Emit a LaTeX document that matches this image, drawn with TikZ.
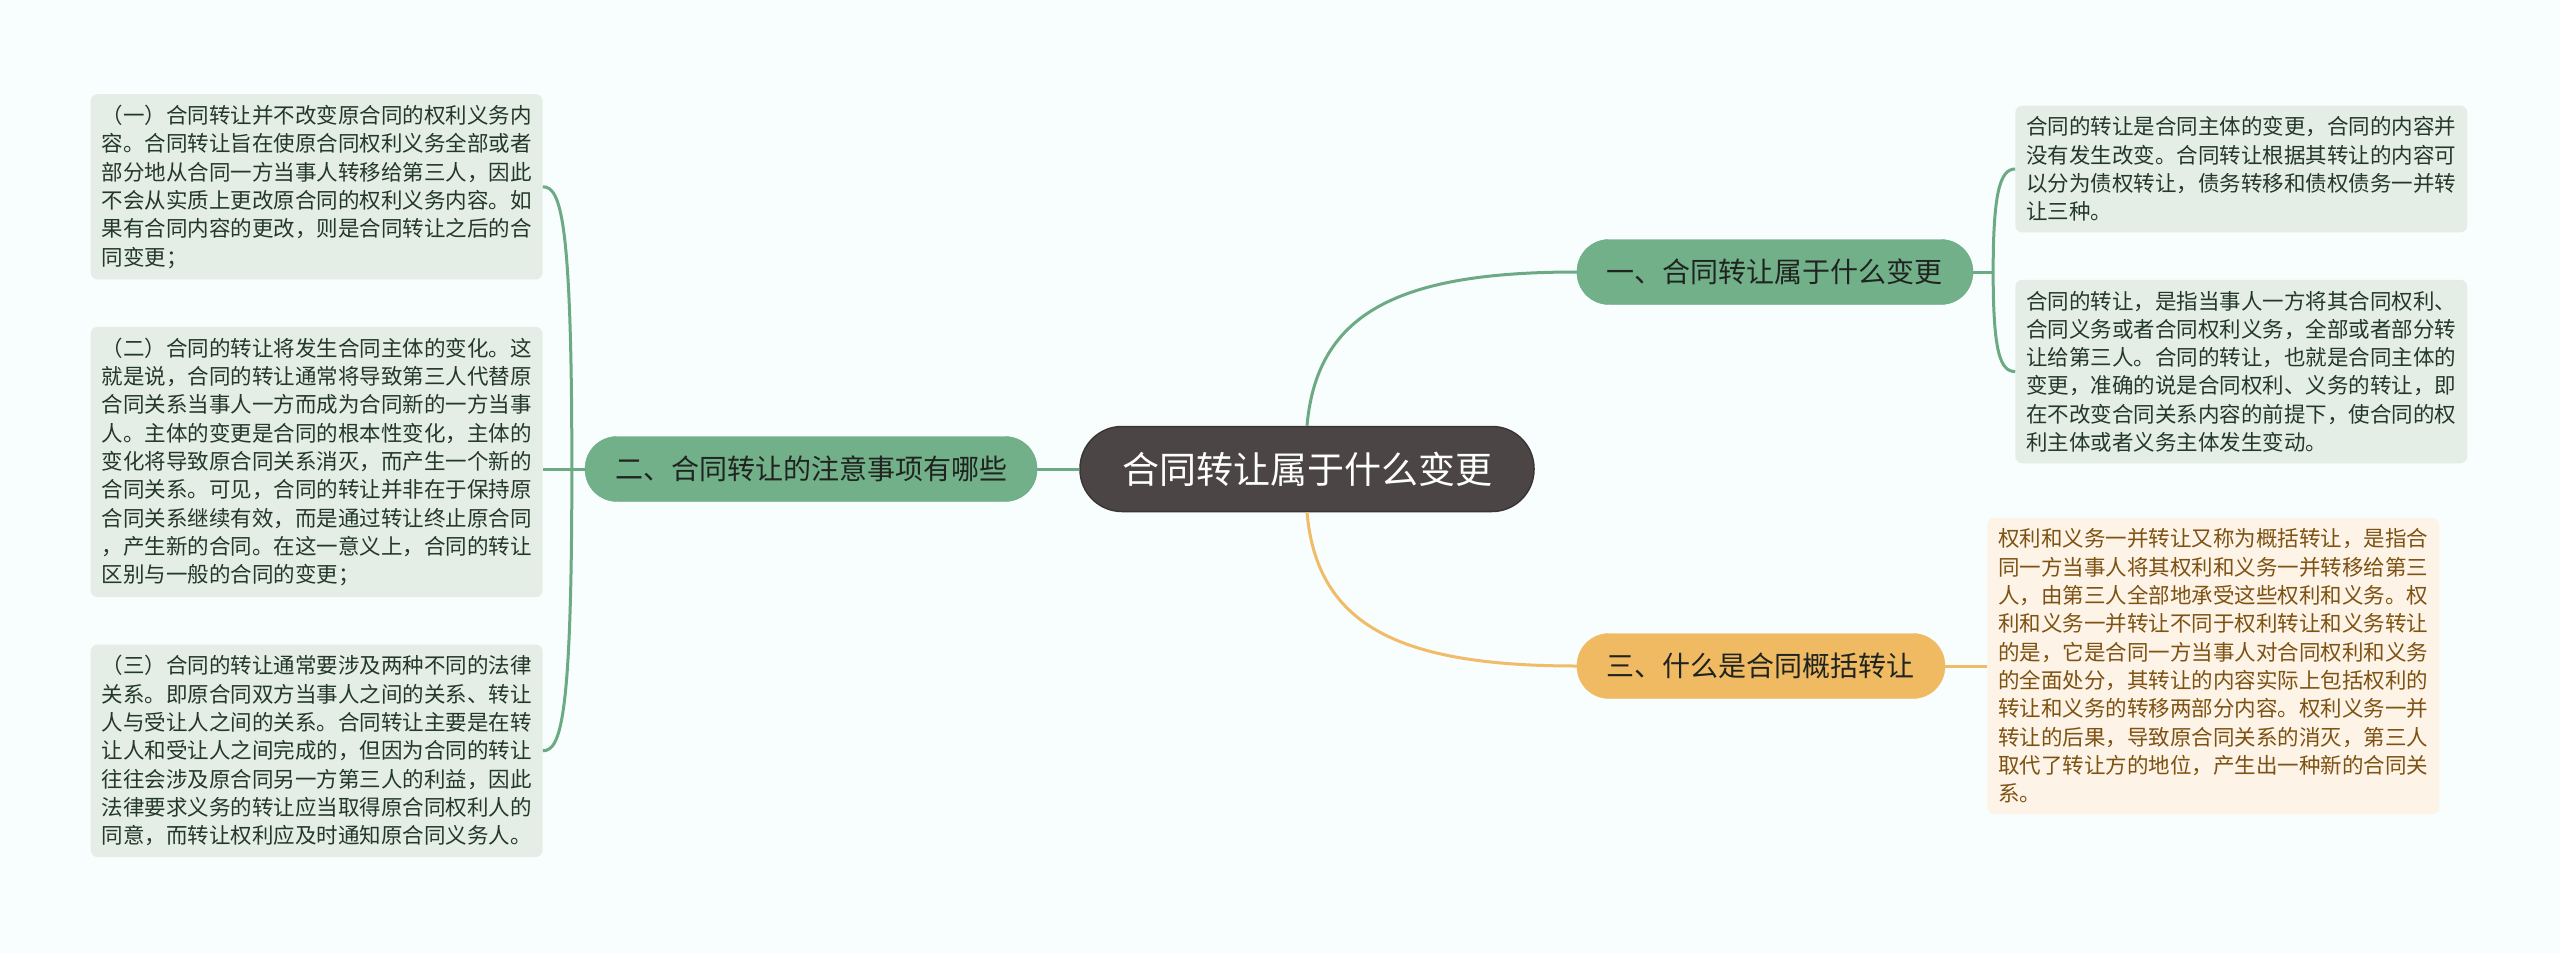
\documentclass[tikz,border=0pt]{standalone}
\usepackage{fontspec}
\setmainfont{Noto Sans CJK SC}
\usetikzlibrary{positioning, calc, backgrounds}

\definecolor{bgcol}{RGB}{248,253,253}
\definecolor{rootfill}{RGB}{75,70,69}
\definecolor{rootline}{RGB}{58,54,53}
\definecolor{greenfill}{RGB}{114,176,138}
\definecolor{greenline}{RGB}{108,170,132}
\definecolor{leafgreen}{RGB}{228,238,231}
\definecolor{leafgreentext}{RGB}{36,56,42}
\definecolor{orangefill}{RGB}{240,186,98}
\definecolor{orangeline}{RGB}{240,188,104}
\definecolor{leaforange}{RGB}{253,243,230}
\definecolor{leaforangetext}{RGB}{125,82,18}
\definecolor{branchtext}{RGB}{32,36,32}

\begin{document}
\begin{tikzpicture}[
    x=1pt, y=1pt,
    node distance=47pt and 42pt,
    % Define styles for the different node types
    rootbox/.style={rectangle, rounded corners=42pt, draw=rootline, line width=1.5pt, fill=rootfill, text=white, font=\fontsize{37}{44}\selectfont, minimum height=85pt, inner xsep=42pt, inner ysep=0pt},
    greenbox/.style={rectangle, rounded corners=32pt, draw=greenline, fill=greenfill, text=branchtext, font=\fontsize{28}{34}\selectfont, minimum height=65pt, inner xsep=30pt, inner ysep=0pt},
    orangebox/.style={rectangle, rounded corners=32pt, draw=orangeline, fill=orangefill, text=branchtext, font=\fontsize{28}{34}\selectfont, minimum height=65pt, inner xsep=30pt, inner ysep=0pt},
    greenleaf/.style={rectangle, rounded corners=7pt, fill=leafgreen, text=leafgreentext, font=\fontsize{21.5}{28.3}\selectfont, align=left, text width=430pt, inner xsep=11pt, inner ysep=11pt},
    orangeleaf/.style={rectangle, rounded corners=7pt, fill=leaforange, text=leaforangetext, font=\fontsize{21.5}{28.3}\selectfont, align=left, text width=430pt, inner xsep=11pt, inner ysep=11pt},
    greenlink/.style={draw=greenline, line width=3pt},
    orangelink/.style={draw=orangeline, line width=3pt},
]

% background and margins
\fill[bgcol] (0,0) rectangle (2560,-953);
\useasboundingbox (0,0) rectangle (2560,-953);

% -------------------------
% Main Nodes
% -------------------------
\node (root) [rootbox] at (1307,-469) {合同转让属于什么变更};

\node (topic2) [greenbox, left=of root] {二、合同转让的注意事项有哪些};
\node (topic1) [greenbox, right=of root, yshift=197pt] {一、合同转让属于什么变更};
\node (topic3) [orangebox, right=of root, yshift=-197pt] {三、什么是合同概括转让};

% -------------------------
% Leaf Nodes
% -------------------------
\node (left2) [greenleaf, left=of topic2, yshift=7pt] {（二）合同的转让将发生合同主体的变化。这\\就是说，合同的转让通常将导致第三人代替原\\合同关系当事人一方而成为合同新的一方当事\\人。主体的变更是合同的根本性变化，主体的\\变化将导致原合同关系消灭，而产生一个新的\\合同关系。可见，合同的转让并非在于保持原\\合同关系继续有效，而是通过转让终止原合同\\，产生新的合同。在这一意义上，合同的转让\\区别与一般的合同的变更；};
\node (left1) [greenleaf, above=of left2] {（一）合同转让并不改变原合同的权利义务内\\容。合同转让旨在使原合同权利义务全部或者\\部分地从合同一方当事人转移给第三人，因此\\不会从实质上更改原合同的权利义务内容。如\\果有合同内容的更改，则是合同转让之后的合\\同变更；};
\node (left3) [greenleaf, below=of left2] {（三）合同的转让通常要涉及两种不同的法律\\关系。即原合同双方当事人之间的关系、转让\\人与受让人之间的关系。合同转让主要是在转\\让人和受让人之间完成的，但因为合同的转让\\往往会涉及原合同另一方第三人的利益，因此\\法律要求义务的转让应当取得原合同权利人的\\同意，而转让权利应及时通知原合同义务人。};

\node (right1) [greenleaf, right=of topic1, yshift=103pt] {合同的转让是合同主体的变更，合同的内容并\\没有发生改变。合同转让根据其转让的内容可\\以分为债权转让，债务转移和债权债务一并转\\让三种。};
\node (right2) [greenleaf, below=of right1] {合同的转让，是指当事人一方将其合同权利、\\合同义务或者合同权利义务，全部或者部分转\\让给第三人。合同的转让，也就是合同主体的\\变更，准确的说是合同权利、义务的转让，即\\在不改变合同关系内容的前提下，使合同的权\\利主体或者义务主体发生变动。};
\node (right3) [orangeleaf, right=of topic3] {权利和义务一并转让又称为概括转让，是指合\\同一方当事人将其权利和义务一并转移给第三\\人，由第三人全部地承受这些权利和义务。权\\利和义务一并转让不同于权利转让和义务转让\\的是，它是合同一方当事人对合同权利和义务\\的全面处分，其转让的内容实际上包括权利的\\转让和义务的转移两部分内容。权利义务一并\\转让的后果，导致原合同关系的消灭，第三人\\取代了转让方的地位，产生出一种新的合同关\\系。};

% -------------------------
% Connections
% -------------------------

% root to topics
\draw[greenlink] (root.north) .. controls +(10,115) and +(-175,0) .. (topic1.west);
\draw[orangelink] (root.south) .. controls +(10,-115) and +(-175,0) .. (topic3.west);
\draw[greenlink] (root.west) -- (topic2.east);

% topic 1 bracket
\coordinate (jr) at ($(topic1.east)+(20,0)$);
\draw[greenlink] (topic1.east) -- (jr);
\draw[greenlink] (jr) .. controls +(0,80) and +(-15,0) .. (right1.west);
\draw[greenlink] (jr) .. controls +(0,-80) and +(-15,0) .. (right2.west);

% topic 2 bracket
\coordinate (jl) at ($(topic2.west)+(-13,0)$);
\draw[greenlink] (topic2.west) -- (jl);
\draw[greenlink] (jl) .. controls +(0,250) and +(18,0) .. (left1.east);
\draw[greenlink] (jl) -- (jl -| left2.east);
\draw[greenlink] (jl) .. controls +(0,-250) and +(18,0) .. (left3.east);

% topic 3 to leaf
\draw[orangelink] (topic3.east) -- (right3.west);

\end{tikzpicture}
\end{document}
